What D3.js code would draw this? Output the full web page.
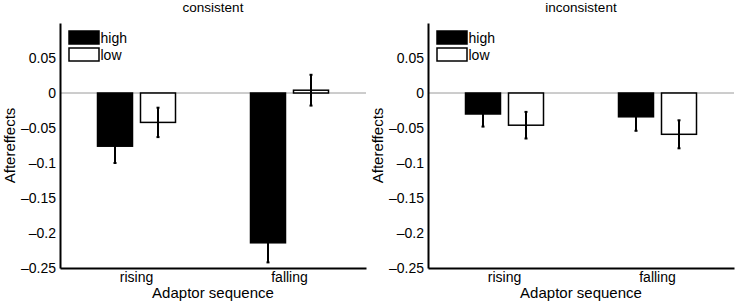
<!DOCTYPE html>
<html>
<head>
<meta charset="utf-8">
<script src="https://cdn.jsdelivr.net/npm/d3@7/dist/d3.min.js"></script>
<style>
  body { margin: 0; background: #fff; }
  svg { font-family: "Liberation Sans", Arial, Helvetica, sans-serif; }
</style>
</head>
<body>
<svg id="chart" width="737" height="306"></svg>
<script>
// data
var categories = ["rising", "falling"]
var groups = ["high", "low"]
var yTicks = [-0.25, -0.2, -0.15, -0.1, -0.05, 0, 0.05]

var consistentHigh = [-0.076, -0.214]
var consistentHighErr = [0.024, 0.028]
var consistentLow = [-0.042, 0.004]
var consistentLowErr = [0.021, 0.022]

var inconsistentHigh = [-0.030, -0.034]
var inconsistentHighErr = [0.018, 0.020]
var inconsistentLow = [-0.046, -0.059]
var inconsistentLowErr = [0.019, 0.020]

var panels = [
  { title: "consistent", left: 60, high: consistentHigh, highErr: consistentHighErr, low: consistentLow, lowErr: consistentLowErr },
  { title: "inconsistent", left: 428, high: inconsistentHigh, highErr: inconsistentHighErr, low: inconsistentLow, lowErr: inconsistentLowErr }
]

var svg = d3.select("#chart")
var plotW = 306, plotTop = 23, plotBottom = 268
var fills = { high: "#000", low: "#fff" }

var y = d3.scaleLinear().domain([-0.25, 0.1]).range([plotBottom, plotTop])
var x0 = d3.scaleBand().domain(categories).range([0, plotW])
var x1 = d3.scaleBand().domain(groups).range([-39, 39]).paddingInner(0.186)

function fmt(d) {
  if (d === 0) return "0"
  return String(d).replace("-", "\u2013")
}

panels.forEach(function(p) {
  var g = svg.append("g").attr("transform", "translate(" + p.left + ",0)")

  // zero line
  g.append("line")
    .attr("x1", 0).attr("x2", plotW)
    .attr("y1", y(0)).attr("y2", y(0))
    .attr("stroke", "#9a9a9a").attr("stroke-width", 1)

  var rows = []
  categories.forEach(function(c, i) {
    rows.push({ cat: c, grp: "high", v: p.high[i], e: p.highErr[i] })
    rows.push({ cat: c, grp: "low", v: p.low[i], e: p.lowErr[i] })
  })

  g.selectAll("rect.bar")
    .data(rows)
    .enter()
    .append("rect")
    .attr("class", "bar")
    .attr("x", function(d) { return x0(d.cat) + x0.bandwidth() / 2 + x1(d.grp) })
    .attr("width", x1.bandwidth())
    .attr("y", function(d) { return y(Math.max(0, d.v)) })
    .attr("height", function(d) { return Math.abs(y(d.v) - y(0)) })
    .attr("fill", function(d) { return fills[d.grp] })
    .attr("stroke", "#000")
    .attr("stroke-width", 1.5)

  // error bars
  var eb = g.selectAll("g.err")
    .data(rows)
    .enter()
    .append("g")
    .attr("class", "err")
    .attr("transform", function(d) {
      return "translate(" + (x0(d.cat) + x0.bandwidth() / 2 + x1(d.grp) + x1.bandwidth() / 2) + ",0)"
    })
  eb.append("line")
    .attr("y1", function(d) { return y(d.v - d.e) })
    .attr("y2", function(d) { return y(d.v + d.e) })
    .attr("stroke", "#000").attr("stroke-width", 2)
  eb.append("line")
    .attr("x1", -1.5).attr("x2", 1.5)
    .attr("y1", function(d) { return y(d.v - d.e) })
    .attr("y2", function(d) { return y(d.v - d.e) })
    .attr("stroke", "#000").attr("stroke-width", 2)
  eb.append("line")
    .attr("x1", -1.5).attr("x2", 1.5)
    .attr("y1", function(d) { return y(d.v + d.e) })
    .attr("y2", function(d) { return y(d.v + d.e) })
    .attr("stroke", "#000").attr("stroke-width", 2)

  // axes
  var yAxis = g.append("g")
    .call(d3.axisLeft(y).tickValues(yTicks).tickSize(0).tickPadding(4).tickFormat(fmt))
  var xAxis = g.append("g")
    .attr("transform", "translate(0," + plotBottom + ")")
    .call(d3.axisBottom(x0).tickSize(0).tickPadding(4))
  ;[yAxis, xAxis].forEach(function(a) {
    a.select(".domain").attr("stroke", "#000").attr("stroke-width", 2)
    a.selectAll("text").attr("fill", "#000").style("font-size", "14px")
      .style("font-family", "'Liberation Sans', Arial, sans-serif")
  })

  // title and axis labels
  g.append("text")
    .attr("x", plotW / 2).attr("y", 12)
    .attr("text-anchor", "middle")
    .style("font-size", "13.5px")
    .text(p.title)
  g.append("text")
    .attr("x", plotW / 2).attr("y", 298)
    .attr("text-anchor", "middle")
    .style("font-size", "15px")
    .text("Adaptor sequence")
  g.append("text")
    .attr("transform", "translate(-45," + ((plotTop + plotBottom) / 2) + ") rotate(-90)")
    .attr("text-anchor", "middle")
    .style("font-size", "15px")
    .text("Aftereffects")

  // legend
  var leg = g.selectAll("g.leg")
    .data(groups)
    .enter()
    .append("g")
    .attr("class", "leg")
    .attr("transform", function(d, i) { return "translate(9," + (31 + i * 17) + ")" })
  leg.append("rect")
    .attr("width", 30).attr("height", 13)
    .attr("fill", function(d) { return fills[d] })
    .attr("stroke", "#000").attr("stroke-width", 1.5)
  leg.append("text")
    .attr("x", 31.5).attr("y", 11.5)
    .style("font-size", "14px")
    .text(function(d) { return d })
})
</script>
</body>
</html>
